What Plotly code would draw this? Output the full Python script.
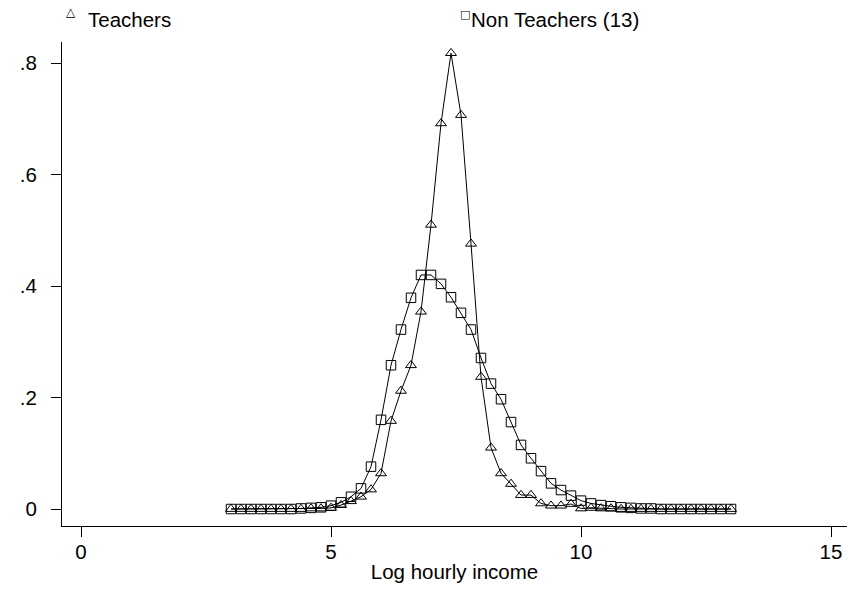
import plotly.graph_objects as go

# Log hourly income grid
log_income = [3.0, 3.2, 3.4, 3.6, 3.8, 4.0, 4.2, 4.4, 4.6, 4.8,
              5.0, 5.2, 5.4, 5.6, 5.8, 6.0, 6.2, 6.4, 6.6, 6.8,
              7.0, 7.2, 7.4, 7.6, 7.8, 8.0, 8.2, 8.4, 8.6, 8.8,
              9.0, 9.2, 9.4, 9.6, 9.8, 10.0, 10.2, 10.4, 10.6, 10.8,
              11.0, 11.2, 11.4, 11.6, 11.8, 12.0, 12.2, 12.4, 12.6, 12.8, 13.0]

teachers = [0.000, 0.000, 0.000, 0.000, 0.000, 0.000, 0.000, 0.000, 0.001, 0.001,
            0.002, 0.007, 0.014, 0.022, 0.035, 0.064, 0.158, 0.212, 0.258, 0.354,
            0.510, 0.692, 0.818, 0.707, 0.476, 0.237, 0.110, 0.064, 0.045, 0.025,
            0.025, 0.010, 0.006, 0.006, 0.009, 0.001, 0.002, 0.001, 0.001, 0.000,
            0.000, 0.000, 0.000, 0.000, 0.000, 0.000, 0.000, 0.000, 0.000, 0.000, 0.000]

non_teachers = [0.000, 0.000, 0.000, 0.000, 0.000, 0.000, 0.000, 0.001, 0.002, 0.003,
                0.006, 0.012, 0.022, 0.037, 0.076, 0.160, 0.258, 0.322, 0.379, 0.420,
                0.420, 0.404, 0.380, 0.352, 0.322, 0.271, 0.225, 0.197, 0.156, 0.115,
                0.091, 0.068, 0.046, 0.034, 0.024, 0.015, 0.010, 0.007, 0.005, 0.003,
                0.002, 0.001, 0.001, 0.000, 0.000, 0.000, 0.000, 0.000, 0.000, 0.000, 0.000]

x_ticks = [0, 5, 10, 15]
x_tick_labels = ["0", "5", "10", "15"]
y_ticks = [0, 0.2, 0.4, 0.6, 0.8]
y_tick_labels = ["0", ".2", ".4", ".6", ".8"]

FONT = "Liberation Sans, Arial, sans-serif"
FS = 20.5

fig = go.Figure()
fig.add_trace(go.Scatter(
    x=log_income, y=teachers, mode="lines+markers", name="Teachers",
    line=dict(color="black", width=1),
    marker=dict(symbol="triangle-up-open", size=9.5, color="black",
                line=dict(color="black", width=1)),
    showlegend=False))
fig.add_trace(go.Scatter(
    x=log_income, y=non_teachers, mode="lines+markers", name="Non Teachers (13)",
    line=dict(color="black", width=1),
    marker=dict(symbol="square-open", size=9.5, color="black",
                line=dict(color="black", width=1)),
    showlegend=False))

fig.update_layout(
    width=847, height=589,
    margin=dict(l=62, r=0, t=42, b=63),
    paper_bgcolor="white", plot_bgcolor="white",
    font=dict(family=FONT, size=FS, color="black"),
    xaxis=dict(range=[-0.38, 15.32], tickvals=x_ticks, ticktext=x_tick_labels,
               showline=True, linecolor="black", linewidth=1,
               ticks="outside", ticklen=10, tickcolor="black", tickwidth=1,
               showgrid=False, zeroline=False, ticklabelstandoff=-3,
               title=dict(text="Log hourly income", standoff=3,
                          font=dict(family=FONT, size=FS))),
    yaxis=dict(range=[-0.0305, 0.838], tickvals=y_ticks, ticktext=y_tick_labels,
               showline=True, linecolor="black", linewidth=1,
               ticks="outside", ticklen=10, tickcolor="black", tickwidth=1,
               showgrid=False, zeroline=False, ticklabelstandoff=10),
    annotations=[
        dict(xref="paper", yref="paper", x=(71 - 62) / 785, y=1 + (42 - 12) / 484,
             text="△", showarrow=False, xanchor="center", yanchor="middle",
             font=dict(family="DejaVu Sans", size=12, color="black")),
        dict(xref="paper", yref="paper", x=(86 - 62) / 785, y=1 + (42 - 19) / 484,
             text="Teachers", showarrow=False, xanchor="left", yanchor="middle",
             font=dict(family=FONT, size=FS, color="black")),
        dict(xref="paper", yref="paper", x=(464.5 - 62) / 785, y=1 + (42 - 14.5) / 484,
             text="□", showarrow=False, xanchor="center", yanchor="middle",
             font=dict(family="DejaVu Sans", size=11, color="black")),
        dict(xref="paper", yref="paper", x=(469 - 62) / 785, y=1 + (42 - 19) / 484,
             text="Non Teachers (13)", showarrow=False, xanchor="left", yanchor="middle",
             font=dict(family=FONT, size=FS, color="black")),
    ],
)

fig.write_html("out.html")
